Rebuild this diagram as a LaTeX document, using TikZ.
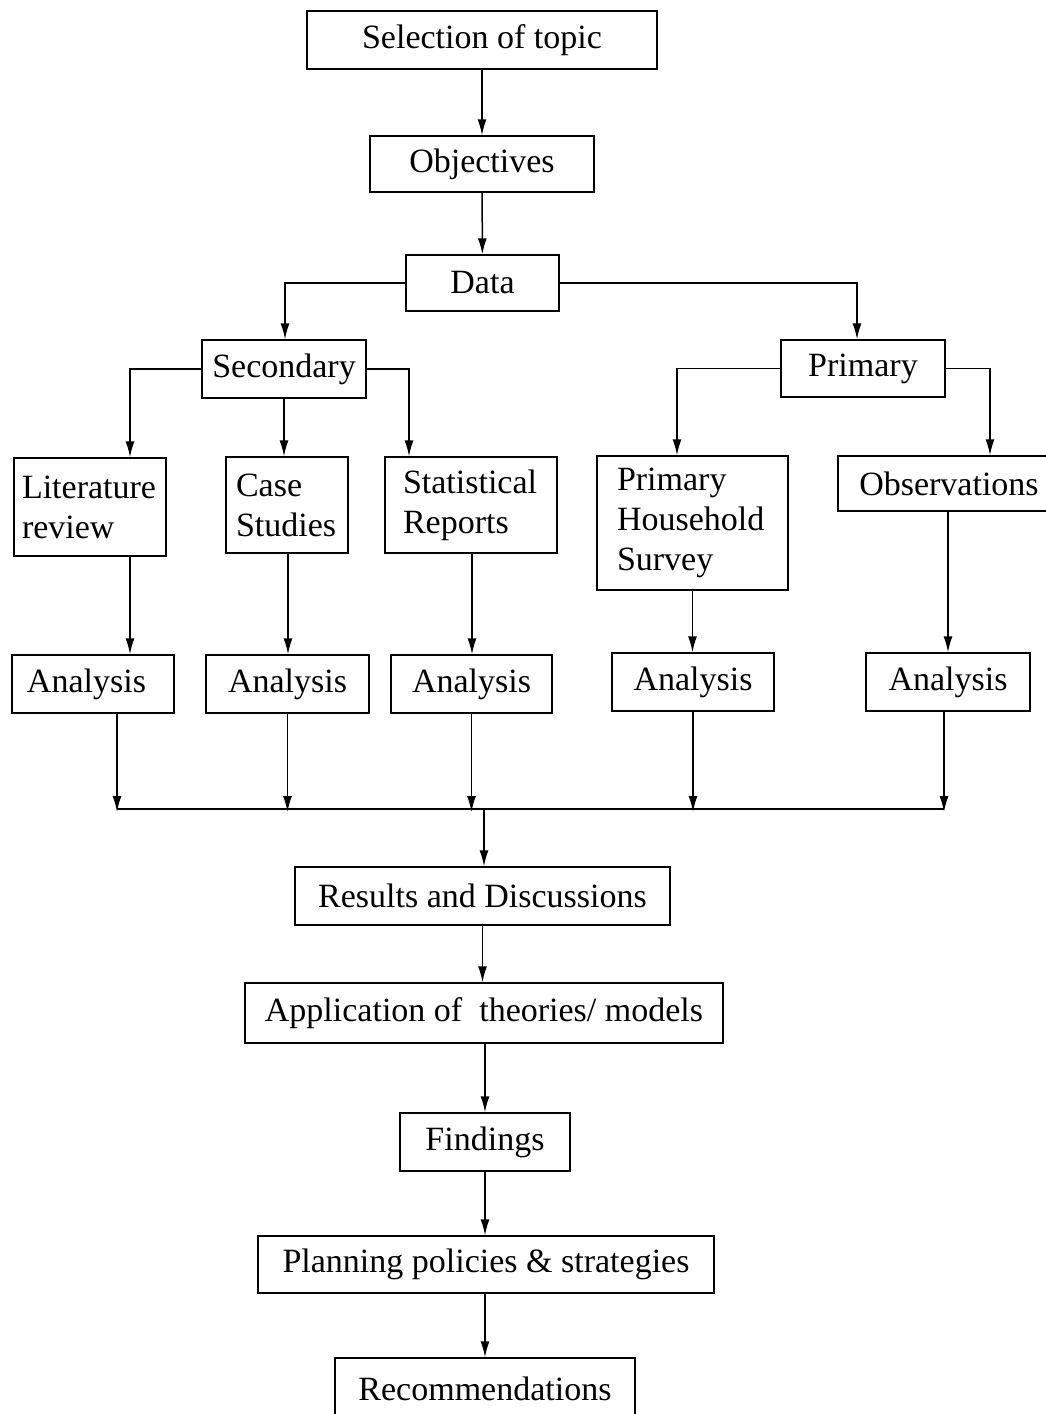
\documentclass[tikz,border=0pt]{standalone}
\usepackage{fontspec}
\setmainfont{Liberation Serif}
\usetikzlibrary{arrows.meta}
\begin{document}
\begin{tikzpicture}[x=1pt,y=-1pt,
  box/.style={draw, line width=1.4pt, inner sep=0pt, font=\fontsize{34}{40}\selectfont},
  lbox/.style={box, align=left},
  conn/.style={line width=1.5pt, -{Latex[length=16pt,width=9pt]}},
  bus/.style={line width=1.5pt}]
\useasboundingbox (0,0) rectangle (1046,1414);
\clip (0,0) rectangle (1046,1414);
\fill[white] (0,0) rectangle (1046,1414);

% top chain
\node[box, minimum width=350pt, minimum height=58pt] (sel) at (482,40) {Selection of topic};
\node[box, minimum width=224pt, minimum height=56pt] (obj) at (482,164) {Objectives};
\node[box, minimum width=153pt, minimum height=56pt] (data) at (482.5,283) {Data};
\node[box, minimum width=164pt, minimum height=58pt] (sec) at (284,369) {Secondary};
\node[box, minimum width=164pt, minimum height=57pt] (pri) at (863,368.5) {Primary};

% sources
\node[lbox, inner xsep=8pt, text width=136pt, minimum height=98pt] (lit) at (90,507) {Literature\\review};
\node[lbox, inner xsep=10pt, text width=102pt, minimum height=96pt] (case) at (287,505) {Case\\Studies};
\node[lbox, inner xsep=18pt, text width=136pt, minimum height=96pt] (stat) at (471,505) {Statistical\\Reports};
\node[lbox, inner xsep=20pt, text width=151pt, minimum height=134pt] (phs) at (692.5,523) {Primary\\Household\\Survey};
\node[box, minimum width=222pt, minimum height=55pt] (obs) at (949,483.5) {Observations};

% analysis boxes
\node[lbox, inner xsep=15pt, text width=132pt, minimum height=58pt] (an1) at (93,684) {Analysis};
\node[box, minimum width=163pt, minimum height=58pt] (an2) at (287.5,684) {Analysis};
\node[box, minimum width=161pt, minimum height=58pt] (an3) at (471.5,684) {Analysis};
\node[box, minimum width=162pt, minimum height=58pt] (an4) at (693,682) {Analysis};
\node[box, minimum width=164pt, minimum height=58pt] (an5) at (948,682) {Analysis};

% bottom chain
\node[box, minimum width=375pt, minimum height=58pt] (res) at (482.5,896) {Results and Discussions};
\node[box, minimum width=478pt, minimum height=60pt] (app) at (484,1013) {Application of\ \ theories/ models};
\node[box, minimum width=170pt, minimum height=58pt] (find) at (485,1142) {Findings};
\node[box, minimum width=456pt, minimum height=57pt] (plan) at (486,1264.5) {Planning policies \& strategies};
\node[box, minimum width=300pt, minimum height=62pt] (rec) at (485,1389) {Recommendations};

% bus line
\coordinate (busL) at (117,809);
\coordinate (busR) at (944,809);
\draw[bus] (busL) -- (busR);

% connectors
\draw[conn] (sel) -- (obj);
\draw[conn] (obj) -- (data);
\draw[conn] (data.west) -| ([xshift=1pt]sec.north);
\draw[conn] (data.east) -| ([xshift=-6pt]pri.north);
\draw[conn] (sec.west) -| ([xshift=40pt]lit.north);
\draw[conn] (sec.south) -- (sec.south |- case.north);
\draw[conn] (sec.east) -| ([xshift=-62pt]stat.north);
\draw[conn] (pri.west) -| ([xshift=-15.5pt]phs.north);
\draw[conn] (pri.east) -| ([xshift=41pt]obs.north);

\draw[conn] ([xshift=40pt]lit.south) -- ([xshift=40pt]lit.south |- an1.north);
\draw[conn] ([xshift=1pt]case.south) -- ([xshift=1pt]case.south |- an2.north);
\draw[conn] ([xshift=1pt]stat.south) -- ([xshift=1pt]stat.south |- an3.north);
\draw[conn] (phs.south) -- (phs.south |- an4.north);
\draw[conn] ([xshift=-1pt]obs.south) -- ([xshift=-1pt]obs.south |- an5.north);

\draw[conn] (an1.south -| busL) -- ([yshift=-3pt]busL);
\draw[conn] (an2.south) -- ([yshift=-3pt]an2.south |- busL);
\draw[conn] (an3.south) -- ([yshift=-3pt]an3.south |- busL);
\draw[conn] (an4.south) -- ([yshift=-3pt]an4.south |- busL);
\draw[conn] (an5.south -| busR) -- ([yshift=-3pt]busR);

\draw[conn] ([xshift=1.5pt]res.north |- busL) -- ([xshift=1.5pt]res.north);
\draw[conn] (res) -- (res.south |- app.north);
\draw[conn] (app.south -| find.north) -- (find.north);
\draw[conn] (find) -- (find.south |- plan.north);
\draw[conn] (plan.south -| rec.north) -- (rec.north);
\end{tikzpicture}
\end{document}
